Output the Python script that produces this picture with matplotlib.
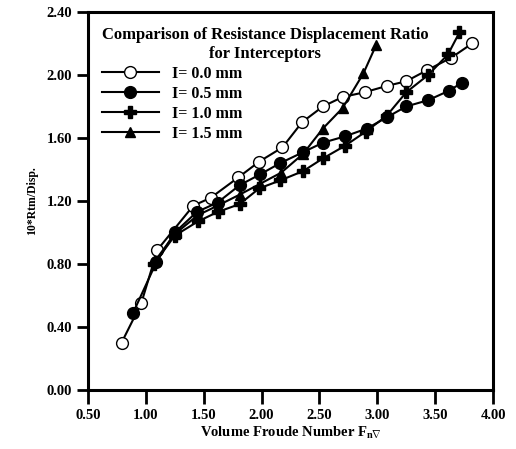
import matplotlib
matplotlib.use("Agg")
import matplotlib.pyplot as plt

# values
fn_00 = [0.79, 0.96, 1.10, 1.41, 1.56, 1.80, 1.98, 2.18, 2.35, 2.53, 2.70, 2.89, 3.08, 3.25, 3.43, 3.64, 3.82]
r_00 = [0.30, 0.55, 0.89, 1.17, 1.22, 1.35, 1.45, 1.54, 1.70, 1.80, 1.86, 1.89, 1.93, 1.96, 2.03, 2.11, 2.20]

fn_05 = [0.89, 1.09, 1.25, 1.44, 1.62, 1.81, 1.99, 2.16, 2.36, 2.53, 2.72, 2.91, 3.08, 3.25, 3.44, 3.62, 3.73]
r_05 = [0.49, 0.81, 1.00, 1.13, 1.19, 1.30, 1.37, 1.44, 1.51, 1.57, 1.61, 1.66, 1.73, 1.80, 1.84, 1.90, 1.95]

fn_10 = [1.07, 1.25, 1.45, 1.62, 1.81, 1.98, 2.16, 2.36, 2.53, 2.72, 2.90, 3.08, 3.25, 3.44, 3.61, 3.71]
r_10 = [0.80, 0.98, 1.07, 1.13, 1.18, 1.28, 1.33, 1.39, 1.47, 1.55, 1.64, 1.74, 1.89, 2.00, 2.13, 2.27]

fn_15 = [1.08, 1.25, 1.45, 1.62, 1.81, 1.99, 2.17, 2.36, 2.53, 2.70, 2.88, 2.99]
r_15 = [0.82, 0.99, 1.11, 1.17, 1.24, 1.31, 1.38, 1.50, 1.66, 1.79, 2.01, 2.19]

xticks = [0.5, 1.0, 1.5, 2.0, 2.5, 3.0, 3.5, 4.0]
yticks = [0.0, 0.4, 0.8, 1.2, 1.6, 2.0, 2.4]

plt.rcParams["font.family"] = ["Liberation Serif", "DejaVu Serif"]
plt.rcParams["font.weight"] = "bold"
plt.rcParams["mathtext.fontset"] = "custom"
plt.rcParams["mathtext.rm"] = "Liberation Serif:bold"
plt.rcParams["mathtext.it"] = "Liberation Serif:bold"
plt.rcParams["mathtext.bf"] = "Liberation Serif:bold"

fig = plt.figure(figsize=(5.16, 4.49), dpi=100)
ax = fig.add_axes([0.1705, 0.1314, 0.785, 0.842])

ax.plot(fn_00, r_00, "k-", marker="o", mfc="white", mec="black", ms=8.5, lw=1.5, label="I= 0.0 mm")
ax.plot(fn_05, r_05, "k-", marker="o", mfc="black", ms=8.5, lw=1.5, label="I= 0.5 mm")
ax.plot(fn_10, r_10, "k-", marker="P", ms=8.5, lw=1.5, label="I= 1.0 mm")
ax.plot(fn_15, r_15, "k-", marker="^", ms=6.5, lw=1.5, label="I= 1.5 mm")

ax.set_xlim(0.5, 4.0)
ax.set_ylim(0.0, 2.4)
ax.set_xticks(xticks)
ax.set_yticks(yticks)
ax.set_xticklabels(["%.2f" % v for v in xticks], fontsize=10.5, fontweight="bold")
ax.set_yticklabels(["%.2f" % v for v in yticks], fontsize=10.5, fontweight="bold")
ax.tick_params(axis="x", direction="out", length=10, width=2)
ax.tick_params(axis="y", direction="out", length=8, width=2)
for s in ax.spines.values():
    s.set_linewidth(2.2)

ax.set_xlabel(r"Volume Froude Number $F_{n\nabla}$", fontsize=10.5, fontweight="bold", labelpad=2)
ax.set_ylabel("10*Rtm/Disp.", fontsize=8.5, fontweight="bold", labelpad=6)

leg = ax.legend(loc="upper left", bbox_to_anchor=(0.01, 0.985), frameon=False,
                title="Comparison of Resistance Displacement Ratio\nfor Interceptors",
                prop={"size": 11.5, "weight": "bold"}, handlelength=3.6,
                labelspacing=0.25, borderaxespad=0.2, alignment="left")
leg.get_title().set_fontsize(12)
leg.get_title().set_fontweight("bold")
leg.get_title().set_multialignment("center")

fig.savefig("out.png", dpi=100)
